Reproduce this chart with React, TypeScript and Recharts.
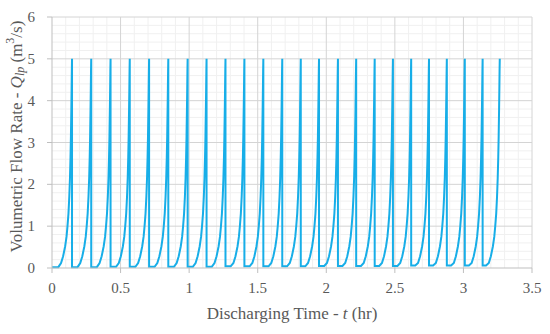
import React from "react";
import { LineChart, Line, XAxis, YAxis, ReferenceLine, Label } from "recharts";

// Times (hr) at which each discharge cycle reaches its peak
const peakTimes = [
  0.146, 0.286, 0.427, 0.567, 0.708, 0.848, 0.989, 1.127, 1.265, 1.403, 1.541, 1.679,
  1.814, 1.947, 2.085, 2.218, 2.353, 2.486, 2.619, 2.749, 2.879, 3.01, 3.14, 3.265,
];
// Flat level each cycle starts from (m3/s)
const baseLevels = [
  0.02, 0.02, 0.02, 0.03, 0.03, 0.03, 0.03, 0.03, 0.03, 0.04, 0.04, 0.04,
  0.04, 0.04, 0.05, 0.05, 0.05, 0.05, 0.05, 0.06, 0.06, 0.06, 0.06, 0.06,
];
// Rise profile read from one cycle: hours before the peak, and flow rate
const riseOffsets = [0.1, 0.08, 0.065, 0.05, 0.04, 0.033, 0.026, 0.02, 0.015, 0.011, 0.008, 0.005, 0.003, 0.0015, 0];
const riseValues = [0.0, 0.12, 0.28, 0.52, 0.75, 1.0, 1.3, 1.7, 2.15, 2.65, 3.15, 3.8, 4.3, 4.7, 5];

const xTicks = [0, 0.5, 1, 1.5, 2, 2.5, 3, 3.5];
const yTicks = [0, 1, 2, 3, 4, 5, 6];
const xMinor = [0.1, 0.2, 0.3, 0.4, 0.6, 0.7, 0.8, 0.9, 1.1, 1.2, 1.3, 1.4, 1.6, 1.7, 1.8, 1.9, 2.1, 2.2, 2.3, 2.4, 2.6, 2.7, 2.8, 2.9, 3.1, 3.2, 3.3, 3.4];
const yMinor = [0.2, 0.4, 0.6, 0.8, 1.2, 1.4, 1.6, 1.8, 2.2, 2.4, 2.6, 2.8, 3.2, 3.4, 3.6, 3.8, 4.2, 4.4, 4.6, 4.8, 5.2, 5.4, 5.6, 5.8];

const data: { t: number; q: number }[] = [];
data.push({ t: 0, q: baseLevels[0] });
peakTimes.forEach((peak, i) => {
  const start = i === 0 ? 0 : peakTimes[i - 1];
  if (i > 0) data.push({ t: start, q: baseLevels[i] });
  riseOffsets.forEach((off, k) => {
    const t = peak - off;
    if (t > start + 0.002) data.push({ t, q: Math.max(baseLevels[i], riseValues[k]) });
  });
});

const FONT = "'Liberation Serif', 'DejaVu Serif', serif";
const TXT = "#595959";

const XTick = (props: any) => {
  const { x, y, payload } = props;
  return (
    <text x={x} y={y + 6} textAnchor="middle" dominantBaseline="central" fontFamily={FONT} fontSize={15} fill={TXT}>
      {String(payload.value)}
    </text>
  );
};

const YTick = (props: any) => {
  const { x, y, payload } = props;
  return (
    <text x={x - 4} y={y} textAnchor="end" dominantBaseline="central" fontFamily={FONT} fontSize={15} fill={TXT}>
      {String(payload.value)}
    </text>
  );
};

const YTitle = (props: any) => {
  const vb = props.viewBox || { x: 0, y: 17, width: 52, height: 251 };
  const cx = vb.x + 16;
  const cy = vb.y + vb.height / 2 - 6;
  return (
    <text
      x={cx}
      y={cy}
      transform={`rotate(-90 ${cx} ${cy})`}
      textAnchor="middle"
      dominantBaseline="central"
      fontFamily={FONT}
      fontSize={17}
      fill={TXT}
    >
      Volumetric Flow Rate - <tspan fontStyle="italic">Q</tspan>
      <tspan fontStyle="italic" fontSize={12} dy={4}>lp</tspan>
      <tspan dy={-4}> (m</tspan>
      <tspan fontSize={12} dy={-6}>3</tspan>
      <tspan dy={6}>/s)</tspan>
    </text>
  );
};

const XTitle = (props: any) => {
  const vb = props.viewBox || { x: 52, y: 268, width: 480, height: 66 };
  const cx = vb.x + vb.width / 2;
  const cy = vb.y + 45;
  return (
    <text x={cx} y={cy} textAnchor="middle" dominantBaseline="central" fontFamily={FONT} fontSize={17} fill={TXT}>
      Discharging Time - <tspan fontStyle="italic">t</tspan> (hr)
    </text>
  );
};

export default function App() {
  return (
    <div style={{ position: "absolute", left: 0, top: 0, background: "#fff", fontFamily: FONT }}>
      <LineChart width={550} height={334} data={data} margin={{ top: 17, right: 18, left: 0, bottom: 0 }}>
        {xMinor.map((v) => (
          <ReferenceLine key={"xm" + v} x={v} stroke="#f0f0f0" strokeWidth={1} ifOverflow="hidden" />
        ))}
        {yMinor.map((v) => (
          <ReferenceLine key={"ym" + v} y={v} stroke="#f0f0f0" strokeWidth={1} ifOverflow="hidden" />
        ))}
        {xTicks.slice(1).map((v) => (
          <ReferenceLine key={"xM" + v} x={v} stroke="#d4d4d4" strokeWidth={1} />
        ))}
        {yTicks.slice(1).map((v) => (
          <ReferenceLine key={"yM" + v} y={v} stroke="#d4d4d4" strokeWidth={1} />
        ))}
        <XAxis
          dataKey="t"
          type="number"
          domain={[0, 3.5]}
          ticks={xTicks}
          height={66}
          stroke="#bfbfbf"
          tickSize={5}
          tickMargin={9}
          tick={<XTick />}
          allowDataOverflow
        >
          <Label content={<XTitle />} />
        </XAxis>
        <YAxis
          type="number"
          domain={[0, 6]}
          ticks={yTicks}
          width={52}
          stroke="#bfbfbf"
          tickSize={5}
          tickMargin={8}
          tick={<YTick />}
        >
          <Label content={<YTitle />} />
        </YAxis>
        <Line
          type="linear"
          dataKey="q"
          stroke="#17aee8"
          strokeWidth={2}
          dot={false}
          isAnimationActive={false}
        />
      </LineChart>
    </div>
  );
}
